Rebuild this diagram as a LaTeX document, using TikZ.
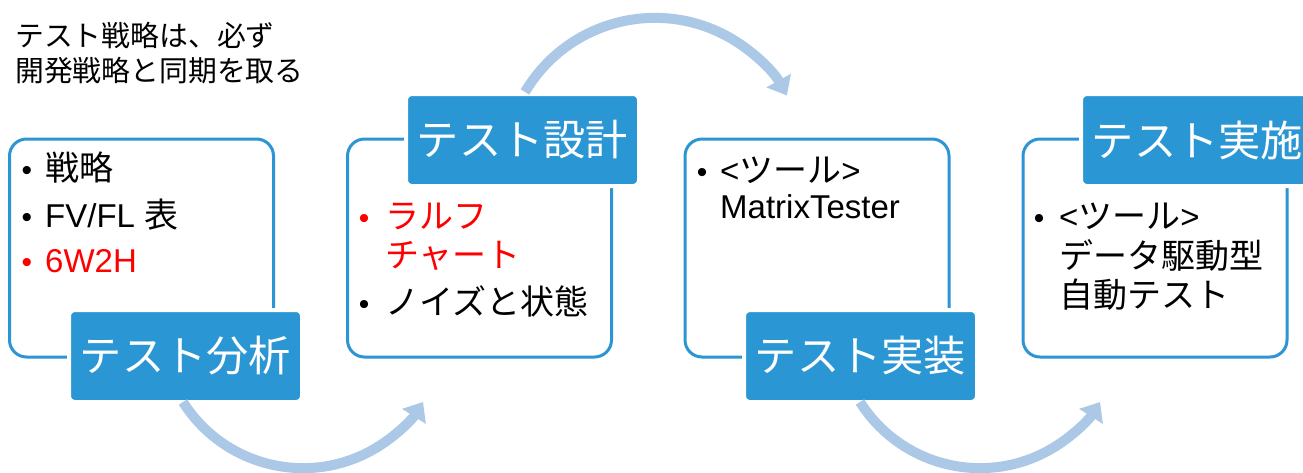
\documentclass[tikz,border=0pt]{standalone}
\usepackage{fontspec}
\setmainfont{Liberation Sans}
\newfontfamily\jp{Noto Sans CJK JP}[Scale=1.03]
\usetikzlibrary{arrows.meta}
\definecolor{boxblue}{HTML}{2E95D4}
\definecolor{labelblue}{HTML}{2A96D4}
\definecolor{arrowblue}{HTML}{ABC8E7}
\definecolor{txtred}{HTML}{FF0000}
\begin{document}
\begin{tikzpicture}[x=1pt,y=-1pt,
  panel/.style={draw=boxblue,line width=3pt,rounded corners=17pt,minimum width=264pt,minimum height=218pt,inner sep=0pt},
  tag/.style={fill=labelblue,draw=white,line width=4pt,rounded corners=6pt,minimum width=233pt,minimum height=92pt,inner sep=0pt,
    text=white,font=\fontsize{41}{41}\selectfont\jp},
  item/.style={anchor=base west,inner sep=0pt,font=\fontsize{33}{38}\selectfont},
  dot/.style={anchor=base,inner sep=0pt,font=\fontsize{30}{38}\selectfont},
  capt/.style={anchor=base west,inner sep=0pt,font=\fontsize{28}{33}\selectfont\jp},
  flow/.style={draw=arrowblue,line width=10pt,-{Triangle[width=27pt,length=17pt]}}
]
\useasboundingbox (0,0) rectangle (1303,472);
\fill[white] (0,0) rectangle (1303,472);

% caption
\node[capt] (cap1) at (15,46) {テスト戦略は、必ず};
\node[capt] (cap2) at (15,81) {開発戦略と同期を取る};

% panels
\node[panel] (p1) at (141.5,248) {};
\node[panel] (p2) at (479.5,248) {};
\node[panel] (p3) at (817,248) {};
\node[panel] (p4) at (1155,248) {};

% tags
\node[tag] (t1) at (185.5,356) {テスト分析};
\node[tag] (t2) at (522.5,140) {テスト設計};
\node[tag] (t3) at (860.5,356) {テスト実装};
\node[tag] (t4) at (1197.5,140) {テスト実施};

% panel 1 items
\node[dot] (b11) at (27,180) {•};
\node[item] (i11) at (45,180) {\jp 戦略};
\node[dot] (b12) at (27,227) {•};
\node[item] (i12) at (45,227) {FV/FL {\jp 表}};
\node[dot,text=txtred] (b13) at (27,272) {•};
\node[item,text=txtred] (i13) at (45,272) {6W2H};

% panel 2 items
\node[dot,text=txtred] (b21) at (364,228) {•};
\node[item,text=txtred] (i21) at (385,228) {\jp ラルフ};
\node[item,text=txtred] (i22) at (385,267) {\jp チャート};
\node[dot] (b23) at (364,314) {•};
\node[item] (i23) at (385,314) {\jp ノイズと状態};

% panel 3 items
\node[dot] (b31) at (702,182) {•};
\node[item] (i31) at (720,182) {<{\jp ツール}>};
\node[item] (i32) at (720,218) {MatrixTester};

% panel 4 items
\node[dot] (b41) at (1039,228) {•};
\node[item] (i41) at (1059,228) {<{\jp ツール}>};
\node[item] (i42) at (1059,268) {\jp データ駆動型};
\node[item] (i43) at (1059,307) {\jp 自動テスト};

% flow arrows
\coordinate (a1s) at (183,402);
\coordinate (a2s) at (525,92);
\coordinate (a3s) at (860,402);
\draw[flow] (a1s) arc[start angle=147.7,end angle=32.3,radius=142];
\draw[flow] (a2s) arc[start angle=-149.4,end angle=-29.1,radius=151];
\draw[flow] (a3s) arc[start angle=147.7,end angle=32.3,radius=142];
\end{tikzpicture}
\end{document}
